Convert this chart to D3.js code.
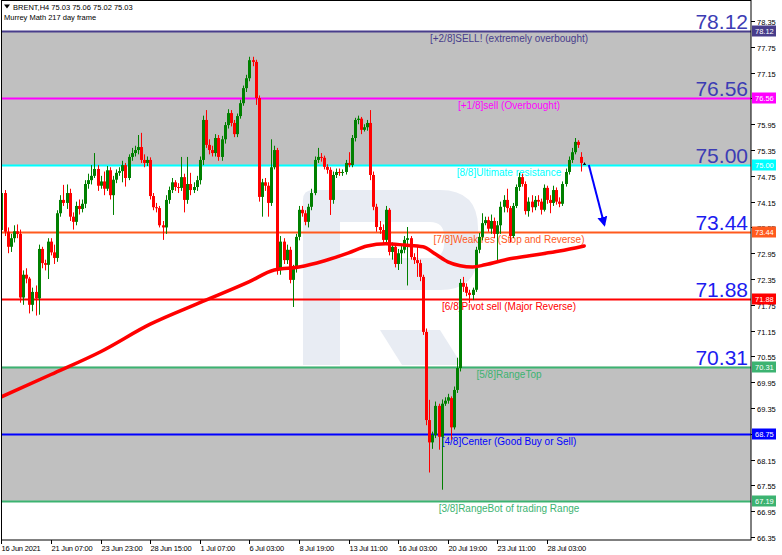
<!DOCTYPE html>
<html><head><meta charset="utf-8">
<script src="https://cdn.jsdelivr.net/npm/d3@7/dist/d3.min.js"></script>
<style>
html,body{margin:0;padding:0;background:#fff;}
svg{display:block;}
text{font-family:"Liberation Sans",Arial,sans-serif;}
</style></head>
<body>
<svg id="c" width="782" height="555"></svg>
<script>
// ---- data ----
const opens = [73.49,74.35,73.45,73.10,73.30,73.46,73.40,71.92,72.45,72.36,
71.75,72.05,71.90,73.05,72.72,72.68,73.22,72.97,72.84,73.88,
74.19,74.12,74.35,73.80,73.68,74.05,73.98,74.10,74.56,74.65,
74.75,74.91,74.52,74.62,74.45,74.88,74.30,74.66,74.82,74.86,
75.00,74.70,75.19,75.28,75.35,75.42,75.12,75.05,75.12,74.28,
74.02,74.00,73.60,73.55,74.19,74.42,74.60,74.49,74.47,74.72,
74.19,74.56,74.42,74.49,74.65,75.12,76.05,75.47,75.35,75.28,
75.63,75.19,75.60,75.93,76.21,75.98,75.72,76.14,76.44,76.79,
77.02,77.44,77.40,76.56,74.26,74.60,74.52,74.12,74.95,75.35,
72.56,73.22,72.79,73.03,72.33,72.60,73.33,73.96,73.88,73.68,
74.03,74.35,75.12,75.19,75.17,74.96,74.89,74.19,74.77,74.84,
74.82,74.84,75.05,75.00,75.63,76.05,76.08,75.82,75.88,75.98,
74.77,74.03,73.56,73.49,73.26,73.96,72.98,73.10,72.70,72.95,
73.03,73.26,73.30,72.86,72.79,72.72,72.40,71.12,69.07,68.55,
68.72,69.40,68.68,69.45,69.52,69.58,68.90,69.77,70.28,72.26,
72.17,72.03,71.98,72.10,73.03,73.33,73.65,73.72,73.52,73.70,
73.40,73.60,74.03,74.19,74.00,73.35,74.05,74.49,74.72,74.56,
73.93,74.15,74.02,74.19,74.15,73.96,74.47,74.19,74.12,74.42,
74.15,74.10,74.56,74.84,75.12,75.30,75.54,75.19,75.03];
const highs = [74.45,74.42,73.55,73.40,73.60,73.62,73.50,72.55,72.60,72.40,
72.15,72.20,73.15,73.10,72.80,73.30,73.30,73.15,73.95,74.30,
74.54,74.55,74.45,73.90,74.15,74.20,74.20,74.65,74.80,75.00,
75.28,75.00,74.75,74.85,74.98,74.95,74.75,74.90,74.95,75.10,
75.05,75.25,75.40,75.45,75.70,75.75,75.25,75.20,75.18,74.35,
74.12,74.05,73.70,74.30,74.50,74.70,74.65,74.58,75.19,74.80,
75.19,74.82,74.60,74.75,75.20,76.15,76.28,75.60,75.45,75.72,
75.70,75.68,76.00,76.30,76.28,76.05,76.20,76.52,76.85,77.10,
77.52,77.52,77.45,76.62,74.68,74.70,74.60,75.60,75.45,75.40,
73.35,73.30,73.15,73.10,72.68,73.40,74.05,74.05,73.95,74.10,
74.45,75.20,75.40,75.28,75.22,75.02,74.95,74.85,74.92,74.92,
74.90,75.12,75.30,75.70,76.10,76.15,76.12,75.95,76.05,76.28,
74.85,74.10,73.70,73.62,74.05,74.00,73.20,73.15,73.05,73.12,
73.35,73.56,73.35,72.95,73.10,72.80,72.45,71.20,69.54,68.80,
69.50,69.45,69.55,69.60,69.68,69.62,69.85,70.52,72.35,72.40,
72.25,72.10,72.15,73.10,73.42,73.88,73.80,73.80,73.85,73.78,
73.70,74.15,74.30,74.45,74.05,74.12,74.55,74.82,74.80,74.62,
74.25,74.30,74.28,74.30,74.22,74.55,74.52,74.30,74.52,74.48,
74.25,74.62,74.92,75.20,75.40,75.63,75.58,75.30,75.06];
const lows = [73.40,73.35,72.95,72.98,73.20,73.30,71.80,71.75,72.25,71.55,
71.60,71.50,71.52,72.60,72.55,72.35,72.90,72.70,72.75,73.80,
74.05,73.98,73.70,73.50,73.60,73.85,73.90,74.00,74.45,74.55,
74.70,74.40,74.45,74.30,74.40,74.20,73.84,74.58,74.75,74.60,
74.50,74.65,75.10,75.20,75.25,75.05,74.95,74.98,74.20,73.95,
73.90,73.55,73.26,73.40,74.10,74.35,74.40,74.35,74.40,73.90,
74.10,74.30,74.35,74.40,74.55,75.00,75.40,75.25,75.20,75.20,
75.10,75.10,75.50,75.85,75.90,75.65,75.65,76.08,76.38,76.70,
76.95,77.30,76.40,74.15,73.80,74.40,73.80,74.05,74.90,72.45,
72.45,72.70,72.70,72.25,71.70,72.50,73.25,73.80,73.60,73.55,
73.95,74.30,75.05,75.08,74.90,74.80,73.84,74.10,74.70,74.75,
74.75,74.78,74.95,74.95,75.55,75.95,75.72,75.78,75.80,74.65,
73.95,73.45,73.40,73.15,73.18,72.90,72.80,72.62,72.56,72.70,
72.95,72.20,72.80,72.70,72.40,72.30,71.05,68.95,67.85,68.40,
68.65,68.38,67.45,69.40,69.45,68.61,68.85,69.70,70.20,72.05,
71.95,71.80,71.86,72.05,72.95,73.25,73.60,73.45,73.40,73.30,
72.75,73.40,73.90,73.90,73.20,73.30,74.00,74.40,74.50,73.85,
73.80,73.90,73.95,74.05,73.85,73.92,74.10,73.88,74.05,74.08,
74.02,74.05,74.50,74.78,75.05,75.25,75.40,74.85,75.02];
const closes = [74.35,73.45,73.10,73.30,73.46,73.40,71.92,72.45,72.36,71.75,
72.05,71.90,73.05,72.72,72.68,73.22,72.97,72.84,73.88,74.19,
74.12,74.35,73.80,73.68,74.05,73.98,74.10,74.56,74.65,74.75,
74.91,74.52,74.62,74.45,74.88,74.30,74.66,74.82,74.86,75.00,
74.70,75.19,75.28,75.35,75.42,75.12,75.05,75.12,74.28,74.02,
74.00,73.60,73.55,74.19,74.42,74.60,74.49,74.47,74.72,74.19,
74.56,74.42,74.49,74.65,75.12,76.05,75.47,75.35,75.28,75.63,
75.19,75.60,75.93,76.21,75.98,75.72,76.14,76.44,76.79,77.02,
77.44,77.40,76.56,74.26,74.60,74.52,74.12,74.95,75.35,72.56,
73.22,72.79,73.03,72.33,72.60,73.33,73.96,73.88,73.68,74.03,
74.35,75.12,75.19,75.17,74.96,74.89,74.19,74.77,74.84,74.82,
74.84,75.05,75.00,75.63,76.05,76.08,75.82,75.88,75.98,74.77,
74.03,73.56,73.49,73.26,73.96,72.98,73.10,72.70,72.95,73.03,
73.26,73.30,72.86,72.79,72.72,72.40,71.12,69.07,68.55,68.72,
69.40,68.68,69.45,69.52,69.60,68.90,69.77,70.28,72.26,72.17,
72.03,71.98,72.10,73.03,73.33,73.65,73.72,73.52,73.70,73.40,
73.60,74.03,74.19,74.00,73.35,74.05,74.49,74.72,74.56,73.93,
74.15,74.02,74.19,74.15,73.96,74.47,74.19,74.12,74.42,74.15,
74.10,74.56,74.84,75.12,75.30,75.54,75.47,75.05,75.03];

// moving average (bar index, value)
const maBars = [0,16,32,48,64,80,88,96,104,112,118,124,130,136,140,144,148,152,156,164,172,180,188];
const maVals = [69.61,70.13,70.66,71.30,71.80,72.29,72.56,72.63,72.77,72.96,73.12,73.17,73.14,73.10,72.93,72.75,72.66,72.63,72.68,72.82,72.91,73.00,73.12];

// Murrey levels
const levelVals = [78.12,76.56,75.00,73.44,71.88,70.31,68.75,67.19];
const levelNames = ["[+2/8]SELL! (extremely overbought)","[+1/8]sell (Overbought)","[8/8]Ultimate resistance","[7/8]Weak res (Stop and Reverse)","[6/8]Pivot sell (Major Reverse)","[5/8]RangeTop","[4/8]Center (Good Buy or Sell)","[3/8]RangeBot of trading Range"];
const levelColors = ["#483d8b","#ff00ff","#00ffff","#ff5a1e","#ff0000","#3cb371","#0000ff","#3cb371"];
const bigLabels = ["78.12","76.56","75.00","73.44","71.88","70.31"];

// price scale labels (76.55 and 68.75 sit fully under the level boxes)
const yTicks = [78.35,77.75,77.15,76.55,75.95,75.35,74.75,74.15,73.55,72.95,72.35,71.75,71.15,70.55,69.95,69.35,68.75,68.15,67.55,66.95,66.35];
const yTicksHidden = [76.55,68.75];
const xTickBars = [0,16,32,48,64,80,96,112,128,144,160,176];
const xTickLabels = ["16 Jun 2021","21 Jun 07:00","23 Jun 23:00","28 Jun 15:00","1 Jul 07:00","6 Jul 03:00","8 Jul 19:00","13 Jul 11:00","16 Jul 03:00","20 Jul 19:00","23 Jul 11:00","28 Jul 03:00"];

const headerLine1 = "BRENT,H4  75.03 75.06 75.02 75.03";
const headerLine2 = "Murrey Math 217 day frame";
// forecast arrow (bar, price) start/end
const arrowFrom = [189.5, 75.00];
const arrowTo = [194.5, 73.61];

// ---- chart ----
(function(){
const W = 782, H = 555;
const pL = 1.5, pR = 751, pT = 0.5, pB = 540;
const svg = d3.select("#c");
const x = d3.scaleLinear().domain([0, 240]).range([1.4, 745.4]);
const y = d3.scaleLinear().domain([66.28, 78.84]).range([540, 0]);

svg.append("rect").attr("width",W).attr("height",H).attr("fill","#fff");
const defs = svg.append("defs");
defs.append("clipPath").attr("id","plot").append("rect")
  .attr("x",pL).attr("y",pT).attr("width",pR-pL).attr("height",pB-pT);
const g = svg.append("g").attr("clip-path","url(#plot)");

// grey bands
g.append("rect").attr("x",pL).attr("width",pR-pL)
  .attr("y",y(levelVals[0])).attr("height",y(levelVals[2])-y(levelVals[0])).attr("fill","#c0c0c0");
g.append("rect").attr("x",pL).attr("width",pR-pL)
  .attr("y",y(levelVals[5])).attr("height",y(levelVals[7])-y(levelVals[5])).attr("fill","#c0c0c0");

// watermark (logo)
const wm = g.append("g").attr("fill","#e8ecf3");
wm.append("path").attr("d","M303,200 Q303,190 313,190 L440,190 Q478,190 478,228 L478,252 Q478,290 440,290 L340,290 L340,365 L303,365 Z M340,222 L340,258 L430,258 Q444,258 444,244 L444,236 Q444,222 430,222 Z")
  .attr("fill-rule","evenodd");
wm.append("path").attr("d","M380,330 L440,330 L462,365 L402,365 Z");

// level labels (under candles)
levelVals.forEach((v,i)=>{
  g.append("text").attr("x",509).attr("y",Math.round(y(v))+11)
   .attr("text-anchor","middle").attr("font-size",10).attr("fill",levelColors[i]).text(levelNames[i]);
});

// level lines
levelVals.forEach((v,i)=>{
  g.append("line").attr("x1",pL).attr("x2",pR)
   .attr("y1",Math.round(y(v))+0.5).attr("y2",Math.round(y(v))+0.5)
   .attr("stroke",levelColors[i]).attr("stroke-width",2);
});

// big level numbers
bigLabels.forEach((t,i)=>{
  const v = levelVals[i];
  g.append("text").attr("x",748).attr("y",y(v)-2).attr("text-anchor","end")
   .attr("font-size",21).attr("fill", (i<=2) ? "#3c3cb4" : "#1c1cf0").text(t);
});

// candles
const cg = g.append("g");
d3.range(closes.length).forEach(i=>{
  const o=opens[i], c=closes[i], h=highs[i], l=lows[i];
  const col = c>o ? "#008000" : (c<o ? "#ff0000" : "#000000");
  const cx = Math.round(x(i))+0.5;
  cg.append("line").attr("x1",cx).attr("x2",cx).attr("y1",y(h)).attr("y2",y(l))
    .attr("stroke",col).attr("stroke-width",1);
  const yt = y(Math.max(o,c)), yb = y(Math.min(o,c));
  cg.append("rect").attr("x",cx-1.5).attr("width",3)
    .attr("y",yt).attr("height",Math.max(1,yb-yt)).attr("fill",col);
});

// moving average
const line = d3.line().x((d,i)=>x(maBars[i])).y(d=>y(d)).curve(d3.curveMonotoneX);
g.append("path").attr("d",line(maVals)).attr("fill","none")
  .attr("stroke","#ff0000").attr("stroke-width",3.5).attr("stroke-linecap","round");

// arrow
defs.append("marker").attr("id","ah").attr("viewBox","0 0 10 10").attr("refX",8).attr("refY",5)
  .attr("markerWidth",5).attr("markerHeight",6).attr("orient","auto")
  .append("path").attr("d","M0,0 L10,5 L0,10 Z").attr("fill","#0000ff");
g.append("line").attr("x1",x(arrowFrom[0])).attr("y1",y(arrowFrom[1]))
  .attr("x2",x(arrowTo[0])).attr("y2",y(arrowTo[1]))
  .attr("stroke","#0000ff").attr("stroke-width",2).attr("marker-end","url(#ah)");

// frame
svg.append("rect").attr("x",pL).attr("y",pT).attr("width",pR-pL).attr("height",pB-pT)
  .attr("fill","none").attr("stroke","#000").attr("stroke-width",1);

// right axis
const axFont = 7.5;
const ya = svg.append("g");
yTicks.forEach(v=>{
  const yy = Math.round(y(v))+0.5;
  ya.append("line").attr("x1",pR).attr("x2",pR+4).attr("y1",yy).attr("y2",yy).attr("stroke","#000");
  if (yTicksHidden.indexOf(v) < 0)
    ya.append("text").attr("x",pR+6).attr("y",yy+3).attr("font-size",axFont).attr("fill","#000").text(v.toFixed(2));
});
levelVals.forEach((v,i)=>{
  const yy = Math.round(y(v));
  ya.append("rect").attr("x",pR+1).attr("y",yy-5.5).attr("width",24).attr("height",11).attr("fill",levelColors[i]);
  ya.append("text").attr("x",pR+4).attr("y",yy+3).attr("font-size",axFont).attr("fill","#fff").text(v.toFixed(2));
});

// bottom axis
const xa = svg.append("g");
xTickBars.forEach((b,i)=>{
  const xx = Math.round(x(b))+0.5;
  xa.append("line").attr("x1",xx).attr("x2",xx).attr("y1",pB).attr("y2",pB+4).attr("stroke","#000");
  xa.append("text").attr("x",xx).attr("y",pB+10.5).attr("font-size",axFont)
    .attr("letter-spacing","-0.2").attr("fill","#000").text(xTickLabels[i]);
});

// header
svg.append("path").attr("d","M4,4.5 L10,4.5 L7,8.5 Z").attr("fill","#000");
svg.append("text").attr("x",13).attr("y",10).attr("font-size",axFont).attr("fill","#000").text(headerLine1);
svg.append("text").attr("x",4).attr("y",20).attr("font-size",axFont).attr("fill","#000").text(headerLine2);
})();
</script>
</body></html>
